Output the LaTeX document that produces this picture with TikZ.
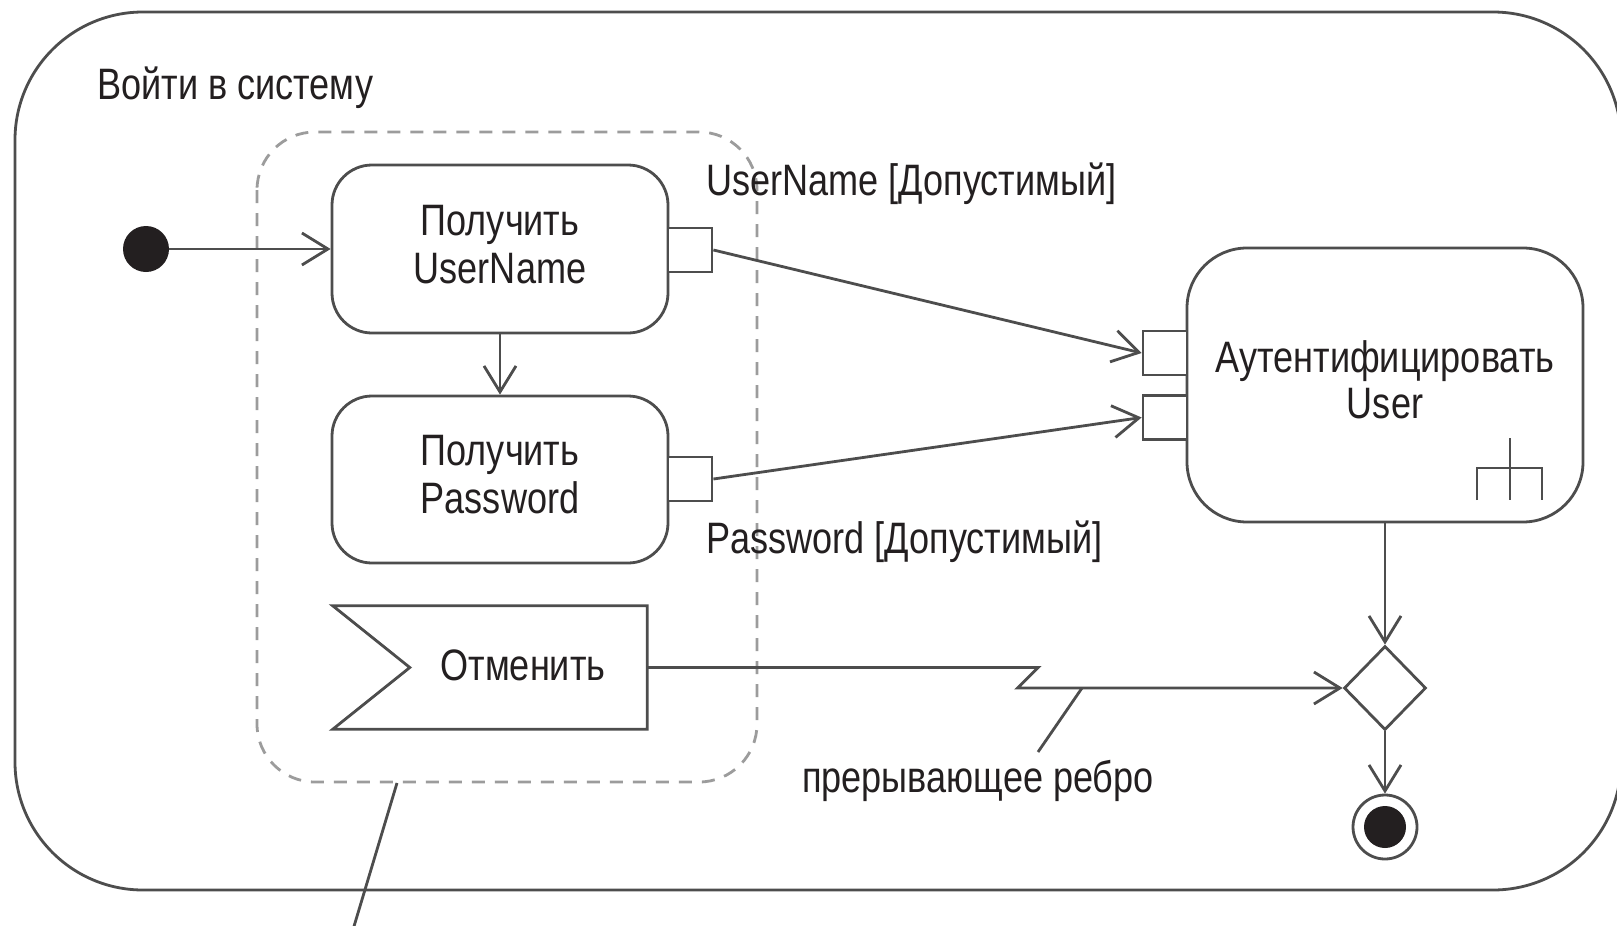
\documentclass[tikz,border=0pt]{standalone}
\usepackage{fontspec}
\setmainfont{Liberation Sans}[FakeStretch=0.82]
\usetikzlibrary{arrows.meta,shapes.geometric,calc}
\definecolor{linec}{HTML}{4D4D4D}
\definecolor{txtc}{HTML}{231F20}
\definecolor{dashc}{HTML}{9C9C9C}
\newcommand{\lowstrut}{\rule[-10pt]{0pt}{0pt}}
\begin{document}
\begin{tikzpicture}[x=1pt,y=-1pt,
  ln/.style={draw=linec, line width=2.8pt},
  act/.style={draw=linec, line width=2.8pt, fill=white, align=center, inner sep=0pt,
    text=txtc, font=\fontsize{44}{48}\selectfont},
  pinbox/.style={draw=linec, line width=2.8pt, fill=white, minimum size=44pt, inner sep=0pt},
  arr/.style={ln, -{Straight Barb[length=26pt,width=32pt]}},
  lbl/.style={inner sep=0pt, text=txtc, font=\fontsize{44}{48}\selectfont}
]
\clip (0,0) rectangle (1617,926);
\fill[white] (0,0) rectangle (1617,926);

% outer activity frame
\draw[ln, rounded corners=128pt] (15,12) rectangle (1621,890);
\node[lbl, anchor=base west] (title) at (97,99) {Войти в систему};

% interruptible region
\draw[dashc, line width=2.8pt, dash pattern=on 13pt off 10pt, rounded corners=58pt]
  (257,132) rectangle (757,782);
\coordinate (regnote) at (397,783);
\coordinate (regnoteend) at (349,943);
\draw[ln] (regnote) -- (regnoteend);

% actions
\node[act, rounded corners=40pt, minimum width=336pt, minimum height=168pt] (get1) at (500,249) {Получить\\UserName\lowstrut};
\node[act, rounded corners=40pt, minimum width=336pt, minimum height=167pt] (get2) at (500,479.5) {Получить\\Password\lowstrut};
\node[act, rounded corners=60pt, minimum width=396pt, minimum height=274pt, font=\fontsize{44}{46}\selectfont] (auth) at (1385,385) {Аутентифицировать\\User\lowstrut};

% pins
\node[pinbox] (p1) at (690,250) {};
\node[pinbox] (p2) at (690,479) {};
\node[pinbox] (pa) at (1165,353) {};
\node[pinbox] (pb) at (1165,417.5) {};

% rake symbol
\draw[linec, line width=2.8pt] (1510,438) -- (1510,500);
\draw[linec, line width=2.5pt] (1477,500) -- (1477,468) -- (1542,468) -- (1542,500);

% pin labels
\node[lbl, anchor=base west] (ulabel) at (706,195) {UserName [Допустимый]};
\node[lbl, anchor=base west] (plabel) at (706,553) {Password [Допустимый]};

% accept event action
\node[minimum width=314pt, minimum height=123pt, inner sep=0pt] (cancel) at (490,667.5) {};
\draw[ln, fill=white] (cancel.north west) -- (cancel.north east) -- (cancel.south east)
  -- (cancel.south west) -- ($(cancel.west)+(77,0)$) -- cycle;
\node[lbl, anchor=base] (canceltxt) at (523,680) {Отменить};

% initial node
\node[circle, fill=txtc, minimum size=46pt, inner sep=0pt] (start) at (146,249) {};

% merge and final nodes
\node[diamond, draw=linec, line width=2.8pt, fill=white, minimum width=82pt, minimum height=84pt, inner sep=0pt] (merge) at (1385,688) {};
\node[circle, draw=linec, line width=2.8pt, minimum size=64pt, inner sep=0pt] (final) at (1385,827) {};
\fill[txtc] (final.center) circle[radius=21pt];

% flows
\draw[arr] (start) -- (get1.west);
\draw[arr] (get1.south) -- (get2.north);
\draw[arr] (p1.east) -- (pa.west);
\draw[arr] (p2.east) -- (pb.west);
\draw[arr] (auth.south) -- (merge.north);
\draw[arr] (merge.south) -- (final.north);

% interrupting edge
\coordinate (zz1) at ($(cancel.east)+(391,0)$);
\coordinate (zz2) at ($(merge.west)+(-325,0)$);
\draw[arr] (cancel.east) -- (zz1) -- (zz2) -- (merge.west);

% note for interrupting edge
\coordinate (enote) at (1082,688);
\coordinate (enoteend) at (1038,752);
\draw[ln] (enote) -- (enoteend);
\node[lbl, anchor=base west] (elabel) at (802,792) {прерывающее ребро};
\end{tikzpicture}
\end{document}
